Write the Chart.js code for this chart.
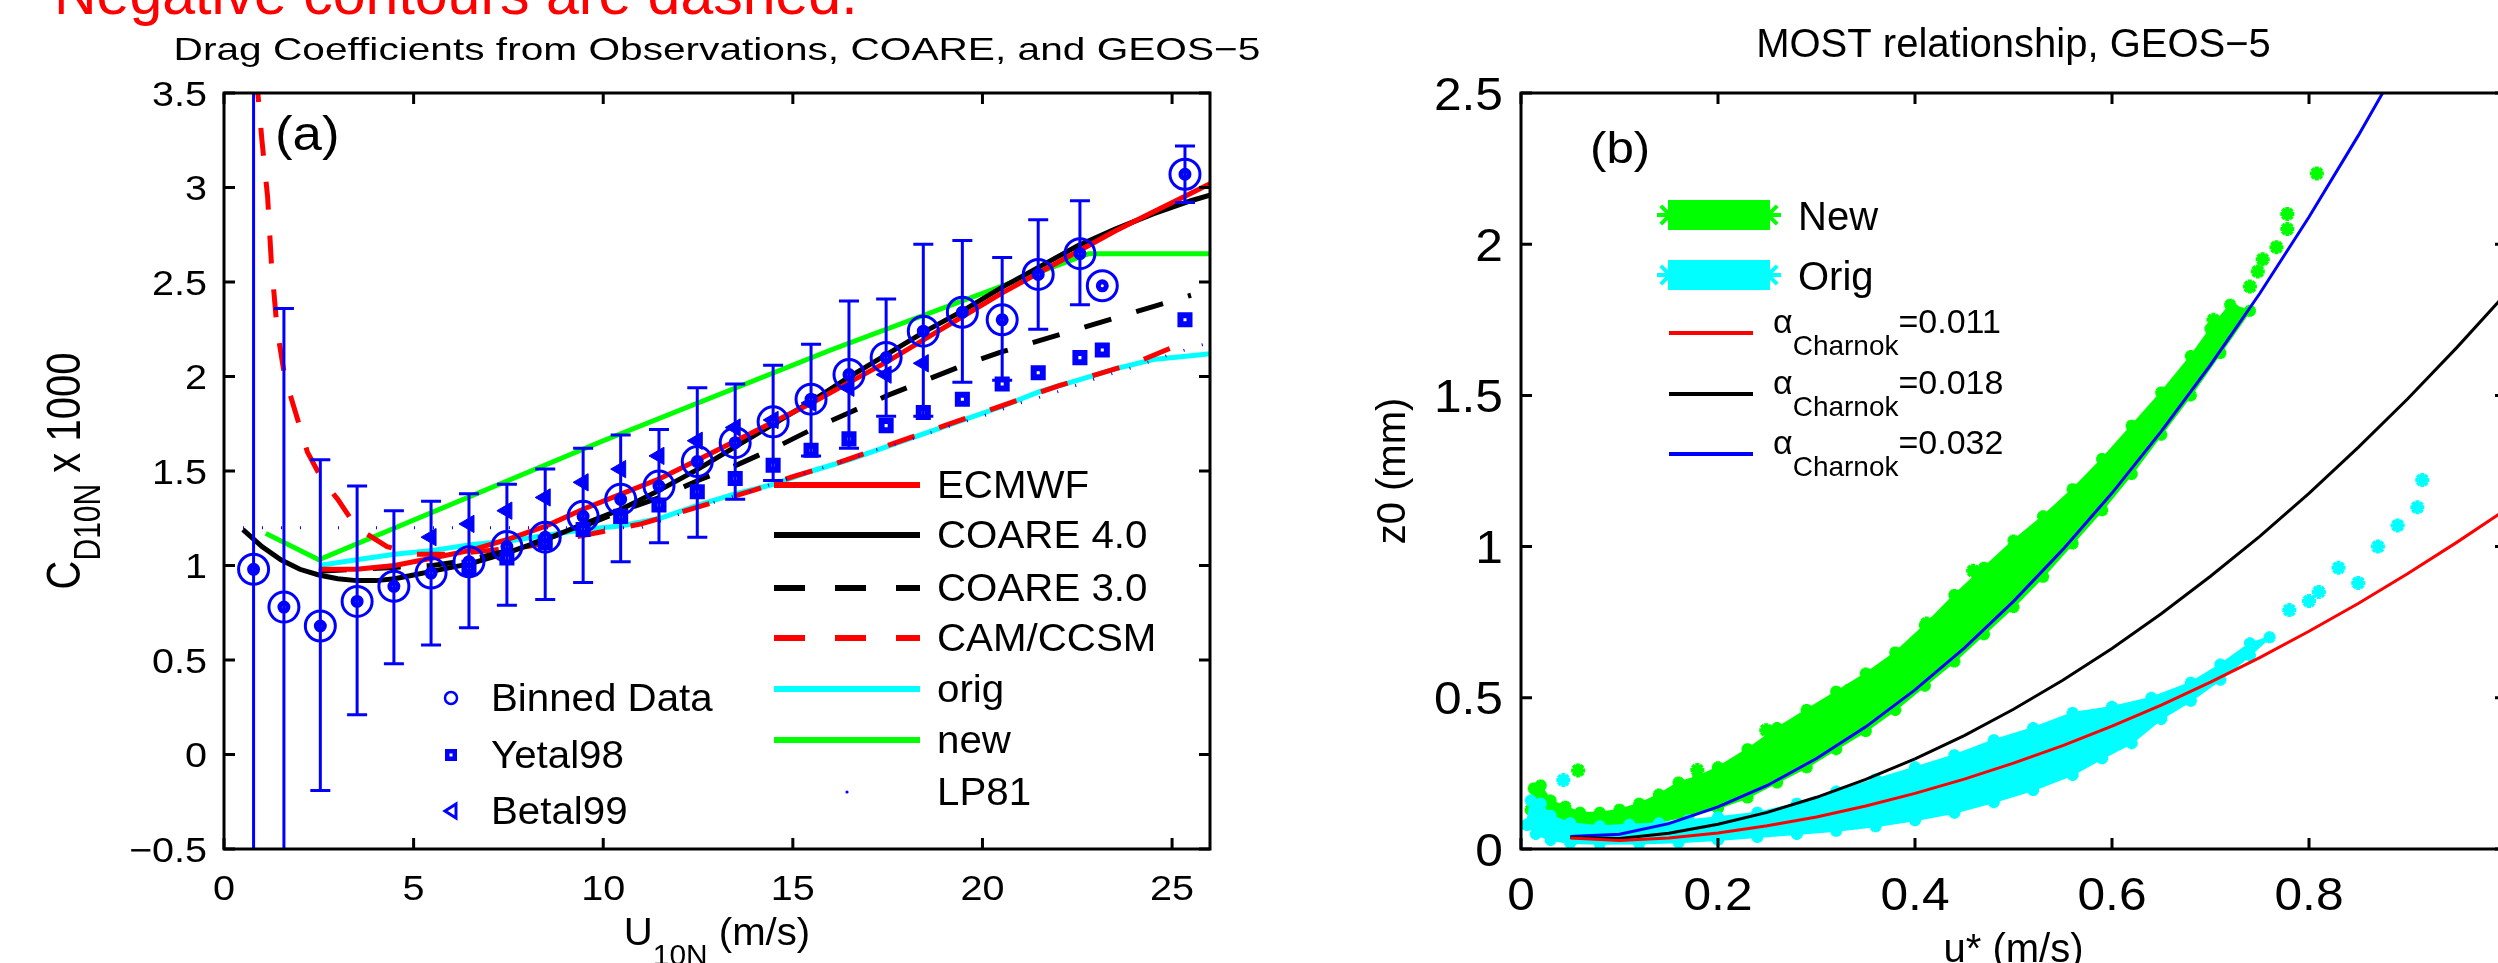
<!DOCTYPE html>
<html><head><meta charset="utf-8">
<script src="https://cdn.jsdelivr.net/npm/chart.js@4.4.1/dist/chart.umd.min.js"></script>
<style>
html,body{margin:0;padding:0;width:2498px;height:963px;overflow:hidden;background:#fff;}
#ca{position:absolute;left:0;top:0;}
#cb{position:absolute;left:1300px;top:0;}
</style></head><body>
<canvas id="ca" width="1300" height="963"></canvas>
<canvas id="cb" width="1230" height="963"></canvas>
<script>
// ---------------- Panel (a) data ----------------
const xTicksA = [0, 5, 10, 15, 20, 25];
const yTicksA = [-0.5, 0, 0.5, 1, 1.5, 2, 2.5, 3, 3.5];
const binU  = [0.78, 1.58, 2.54, 3.51, 4.48, 5.46, 6.46, 7.46, 8.47, 9.47, 10.46, 11.47, 12.48, 13.48, 14.48, 15.48, 16.48, 17.46, 18.44, 19.47, 20.52, 21.47, 22.57, 23.16, 25.34];
const binCd = [0.98, 0.78, 0.68, 0.81, 0.89, 0.96, 1.02, 1.10, 1.15, 1.26, 1.35, 1.42, 1.55, 1.65, 1.76, 1.88, 2.01, 2.10, 2.24, 2.34, 2.30, 2.54, 2.65, 2.48, 3.07];
const binHi = [4.5, 2.36, 1.56, 1.42, 1.29, 1.34, 1.38, 1.43, 1.51, 1.62, 1.69, 1.72, 1.94, 1.96, 2.06, 2.17, 2.40, 2.41, 2.70, 2.72, 2.63, 2.83, 2.93, null, 3.22];
const binLo = [-3, -3, -0.19, 0.21, 0.48, 0.58, 0.67, 0.79, 0.82, 0.91, 1.02, 1.12, 1.15, 1.35, 1.45, 1.58, 1.62, 1.79, 1.79, 1.97, 1.98, 2.25, 2.38, null, 2.92];
const yetU  = [6.46, 7.46, 8.47, 9.47, 10.46, 11.47, 12.48, 13.48, 14.48, 15.48, 16.48, 17.46, 18.44, 19.47, 20.52, 21.47, 22.57, 23.16, 25.34];
const yetCd = [0.99, 1.04, 1.12, 1.19, 1.26, 1.32, 1.39, 1.46, 1.53, 1.61, 1.67, 1.74, 1.81, 1.88, 1.96, 2.02, 2.10, 2.14, 2.30];
const betU  = [5.46, 6.46, 7.46, 8.47, 9.47, 10.46, 11.47, 12.48, 13.48, 14.48, 15.48, 16.48, 17.46, 18.44];
const betCd = [1.15, 1.22, 1.29, 1.36, 1.44, 1.51, 1.58, 1.66, 1.73, 1.77, 1.86, 1.94, 2.01, 2.07];
const ecmwfU  = [2.5, 3.5, 4.5, 5.5, 6.5, 7.5, 8.5, 9.5, 10.5, 11.5, 12.5, 13.5, 14.5, 15.5, 16.5, 17.5, 18.5, 19.5, 20.5, 21.5, 22.5, 23.5, 24.5, 25.5, 26];
const ecmwfCd = [0.98, 0.98, 1.00, 1.04, 1.08, 1.14, 1.21, 1.30, 1.38, 1.46, 1.56, 1.66, 1.76, 1.86, 1.97, 2.08, 2.20, 2.32, 2.44, 2.55, 2.66, 2.77, 2.87, 2.97, 3.02];
const coare40U  = [0.5, 1, 1.5, 2, 2.5, 3, 3.5, 4, 4.5, 5, 5.5, 6.5, 7.5, 8.5, 9.5, 10.5, 11.5, 12.5, 13.5, 14.5, 15.5, 16.5, 17.5, 18.5, 19.5, 20.5, 21.5, 22.5, 23.5, 24.5, 25.5, 26];
const coare40Cd = [1.19, 1.10, 1.03, 0.98, 0.95, 0.93, 0.92, 0.92, 0.93, 0.95, 0.97, 1.01, 1.07, 1.14, 1.22, 1.30, 1.40, 1.51, 1.63, 1.75, 1.87, 2.00, 2.12, 2.24, 2.35, 2.47, 2.58, 2.69, 2.78, 2.86, 2.93, 2.96];
const coare30U  = [2.5, 3.5, 4.5, 5.5, 6.5, 7.5, 8.5, 9.5, 10.5, 11.5, 12.5, 13.5, 14.5, 15.5, 16.5, 17.5, 18.5, 19.5, 20.5, 21.5, 22.5, 23.5, 24.5, 25.5];
const coare30Cd = [0.97, 0.98, 0.99, 1.00, 1.03, 1.08, 1.14, 1.21, 1.29, 1.36, 1.45, 1.53, 1.62, 1.72, 1.81, 1.90, 1.98, 2.06, 2.13, 2.19, 2.25, 2.31, 2.37, 2.43];
const camU  = [0.85, 1.0, 1.15, 1.25, 1.4, 1.6, 1.9, 2.2, 2.6, 3.0, 3.5, 4.3, 5.0, 6.0, 7.0, 8.0, 9.0, 10.0, 11.0, 12.0, 13.0, 14.0, 15.0, 16.0, 17.0, 18.0, 19.0, 20.0, 21.0, 22.0, 23.0, 24.0, 25.2];
const camCd = [3.6, 3.25, 2.95, 2.6, 2.25, 2.0, 1.8, 1.6, 1.45, 1.35, 1.2, 1.1, 1.06, 1.06, 1.08, 1.10, 1.14, 1.18, 1.22, 1.28, 1.34, 1.40, 1.47, 1.53, 1.60, 1.67, 1.74, 1.81, 1.88, 1.95, 2.01, 2.07, 2.17];
const origU  = [2.5, 3.5, 4.5, 5.5, 6.5, 7.5, 8.5, 9.5, 10.5, 11.5, 12.5, 13.5, 14.5, 15.5, 16.5, 17.5, 18.5, 19.5, 20.5, 21.5, 22.5, 23.5, 24.5, 25.5, 26];
const origCd = [1.00, 1.03, 1.06, 1.08, 1.11, 1.13, 1.16, 1.19, 1.21, 1.25, 1.32, 1.38, 1.43, 1.50, 1.56, 1.63, 1.70, 1.77, 1.84, 1.92, 1.98, 2.04, 2.09, 2.11, 2.12];
const newU  = [1.1, 2.5, 10.0, 16.0, 22.8, 26];
const newCd = [1.17, 1.03, 1.66, 2.14, 2.65, 2.65];
const lp81U  = [0.5, 2, 4, 6, 8, 10, 11, 12, 13, 14, 15, 16, 17, 18, 19, 20, 21, 22, 23, 24, 25, 26];
const lp81Cd = [1.2, 1.2, 1.2, 1.2, 1.2, 1.2, 1.2, 1.27, 1.34, 1.40, 1.47, 1.53, 1.60, 1.66, 1.73, 1.79, 1.86, 1.92, 1.99, 2.05, 2.12, 2.18];

// ---------------- Panel (b) data ----------------
const xTicksB = [0, 0.2, 0.4, 0.6, 0.8];
const yTicksB = [0, 0.5, 1, 1.5, 2, 2.5];
const uStar   = [0.05, 0.1, 0.15, 0.2, 0.25, 0.3, 0.35, 0.4, 0.45, 0.5, 0.55, 0.6, 0.65, 0.7, 0.75, 0.8, 0.85, 0.9, 0.95, 1.0];
const z0a011  = [0.036, 0.028, 0.036, 0.053, 0.077, 0.106, 0.142, 0.184, 0.231, 0.284, 0.342, 0.406, 0.476, 0.552, 0.633, 0.720, 0.812, 0.910, 1.014, 1.123];
const z0a018  = [0.038, 0.035, 0.052, 0.082, 0.121, 0.171, 0.230, 0.298, 0.375, 0.462, 0.558, 0.663, 0.778, 0.902, 1.034, 1.176, 1.328, 1.488, 1.658, 1.837];
const z0a032  = [0.041, 0.049, 0.084, 0.139, 0.210, 0.299, 0.404, 0.526, 0.664, 0.819, 0.990, 1.177, 1.381, 1.601, 1.837, 2.090, 2.359, 2.644, 2.945, 3.264];
const newBandU = [0.010,0.013,0.020,0.030,0.045,0.060,0.080,0.100,0.120,0.140,0.160,0.180,0.200,0.230,0.260,0.290,0.320,0.350,0.380,0.410,0.440,0.470,0.500,0.530,0.560,0.590,0.620,0.650,0.680,0.700,0.720,
                  0.740,0.710,0.680,0.650,0.620,0.590,0.560,0.530,0.500,0.470,0.440,0.410,0.380,0.350,0.320,0.290,0.260,0.230,0.200,0.170,0.140,0.110,0.080,0.050,0.030,0.015,0.010];
const newBandZ = [0.13,0.20,0.21,0.16,0.14,0.12,0.12,0.13,0.15,0.18,0.22,0.24,0.27,0.33,0.40,0.46,0.52,0.58,0.65,0.74,0.84,0.93,1.02,1.10,1.19,1.29,1.40,1.51,1.63,1.72,1.80,
                  1.78,1.64,1.50,1.37,1.24,1.12,1.01,0.90,0.80,0.71,0.62,0.54,0.46,0.39,0.33,0.27,0.22,0.17,0.135,0.11,0.09,0.08,0.075,0.07,0.08,0.10,0.13];
const newPtsU = [0.016, 0.058, 0.179, 0.249, 0.334, 0.412, 0.459, 0.703, 0.723, 0.740, 0.748, 0.753, 0.767, 0.778, 0.778, 0.808];
const newPtsZ = [0.195, 0.26, 0.261, 0.393, 0.526, 0.746, 0.92, 1.75, 1.78, 1.86, 1.91, 1.95, 1.99, 2.05, 2.10, 2.234];
const origBandU = [0.006,0.010,0.020,0.030,0.050,0.080,0.110,0.140,0.170,0.200,0.240,0.280,0.320,0.360,0.400,0.440,0.480,0.520,0.560,0.600,0.640,0.680,0.710,0.740,
                   0.760,0.740,0.710,0.680,0.650,0.620,0.590,0.560,0.520,0.480,0.440,0.400,0.360,0.320,0.280,0.240,0.200,0.160,0.120,0.080,0.050,0.030,0.015,0.006];
const origBandZ = [0.08,0.16,0.15,0.11,0.085,0.075,0.08,0.085,0.095,0.105,0.12,0.15,0.19,0.23,0.27,0.31,0.36,0.40,0.45,0.47,0.50,0.55,0.61,0.68,
                   0.70,0.64,0.56,0.49,0.43,0.35,0.30,0.245,0.195,0.155,0.12,0.095,0.075,0.06,0.05,0.04,0.03,0.022,0.018,0.017,0.02,0.03,0.05,0.08];
const origPtsU = [0.043, 0.78, 0.80, 0.81, 0.83, 0.85, 0.87, 0.89, 0.91, 0.915];
const origPtsZ = [0.228, 0.79, 0.82, 0.85, 0.93, 0.88, 1.00, 1.07, 1.13, 1.22];

// ---------------- helpers ----------------
const BLUE='#0000ff', RED='#ff0000', GREEN='#00ff00', CYAN='#00ffff', BLACK='#000000';
const FONT='"Liberation Sans", Arial, Helvetica, sans-serif';
function f(s){return s+'px '+FONT;}
function xy(xs, ys){return xs.map((v,i)=>({x:v, y:ys[i]}));}
// parts: [text, size, dy]; sx = horizontal stretch of glyphs
function rich(ctx, parts, x, y, align, sx){
  sx = sx || 1;
  let w=0;
  for(const p of parts){ctx.font=f(p[1]); w+=ctx.measureText(p[0]).width*sx;}
  let cx = align==='center'? x-w/2 : (align==='right'? x-w : x);
  ctx.textAlign='left'; ctx.textBaseline='alphabetic';
  for(const p of parts){
    ctx.font=f(p[1]);
    ctx.save(); ctx.translate(cx, y+(p[2]||0)); ctx.scale(sx,1); ctx.fillText(p[0], 0, 0); ctx.restore();
    cx+=ctx.measureText(p[0]).width*sx;
  }
}
function frame(chart, xt, yt, len){
  const {ctx, chartArea:a, scales:{x,y}} = chart;
  ctx.save();
  ctx.strokeStyle=BLACK; ctx.lineWidth=3;
  ctx.strokeRect(a.left, a.top, a.right-a.left, a.bottom-a.top);
  ctx.beginPath();
  xt.forEach(v=>{const p=x.getPixelForValue(v); ctx.moveTo(p,a.bottom); ctx.lineTo(p,a.bottom-len); ctx.moveTo(p,a.top); ctx.lineTo(p,a.top+len);});
  yt.forEach(v=>{const p=y.getPixelForValue(v); ctx.moveTo(a.left,p); ctx.lineTo(a.left+len,p); ctx.moveTo(a.right,p); ctx.lineTo(a.right-len,p);});
  ctx.lineWidth=3; ctx.stroke();
  ctx.restore();
}
function fmt(v){ const s = String(Math.round(v*10)/10); return s.replace('-', '\u2212'); }
function tickLabels(chart, xt, yt, size, sx, xBase, yRight, yOff){
  const {ctx, scales:{x,y}} = chart;
  ctx.save(); ctx.fillStyle=BLACK; ctx.font=f(size); ctx.textBaseline='alphabetic';
  xt.forEach(v=>{ ctx.save(); ctx.translate(x.getPixelForValue(v), xBase); ctx.scale(sx,1); ctx.textAlign='center'; ctx.fillText(fmt(v),0,0); ctx.restore(); });
  yt.forEach(v=>{ ctx.save(); ctx.translate(yRight, y.getPixelForValue(v)+yOff); ctx.scale(sx,1); ctx.textAlign='right'; ctx.fillText(fmt(v),0,0); ctx.restore(); });
  ctx.restore();
}
function lineDs(label, xs, ys, color, width, dash, order){
  return {label, data: xy(xs, ys), showLine:true, borderColor:color, borderWidth:width, borderDash:dash||[],
          pointRadius:0, fill:false, order, clip:0, tension:0};
}
function axisCommon(min, max, ticksArr, sizeFn){
  return {type:'linear', min, max, grid:{display:false, drawTicks:false}, border:{display:false},
    afterBuildTicks: s=>{ s.ticks = ticksArr.map(v=>({value:v})); },
    afterFit: s=>{ sizeFn(s); s.paddingLeft=0; s.paddingRight=0; s.paddingTop=0; s.paddingBottom=0; },
    ticks:{display:false}};
}

// ---------------- Panel (a) ----------------
const decorA = { id:'decorA',
  afterDatasetsDraw(chart){
    const {ctx, chartArea:a, scales:{x,y}} = chart;
    ctx.save();
    ctx.beginPath(); ctx.rect(a.left, a.top, a.right-a.left, a.bottom-a.top); ctx.clip();
    ctx.strokeStyle=BLUE; ctx.lineWidth=3;
    binU.forEach((u,i)=>{
      if(binHi[i]===null) return;
      const px=x.getPixelForValue(u), pt=y.getPixelForValue(binHi[i]), pb=y.getPixelForValue(binLo[i]);
      ctx.beginPath(); ctx.moveTo(px,pt); ctx.lineTo(px,pb);
      ctx.moveTo(px-10,pt); ctx.lineTo(px+10,pt); ctx.moveTo(px-10,pb); ctx.lineTo(px+10,pb);
      ctx.stroke();
    });
    ctx.restore();
  },
  afterDraw(chart){
    const {ctx, chartArea:a} = chart;
    frame(chart, xTicksA, yTicksA, 11);
    tickLabels(chart, xTicksA, yTicksA, 35, 1.13, 900, 207, 12.5);
    ctx.save();
    ctx.fillStyle=RED;
    rich(ctx, [['Negative contours are dashed.', 59]], 54, 14, 'left');
    ctx.fillStyle=BLACK;
    rich(ctx, [['Drag Coefficients from Observations, COARE, and GEOS\u22125', 32]], (a.left+a.right)/2, 60, 'center', 1.27);
    rich(ctx, [['U',39],['10N',29,20],[' (m/s)',39]], (a.left+a.right)/2, 945, 'center', 1.03);
    ctx.save(); ctx.translate(80, (a.top+a.bottom)/2); ctx.scale(1.2,1); ctx.rotate(-Math.PI/2);
    rich(ctx, [['C',40],['D10N',30,17],[' x 1000',40]], 0, 0, 'center');
    ctx.restore();
    rich(ctx, [['(a)',48]], 275, 150, 'left', 1.1);
    // left legend
    const rowsL=[['Binned Data',698],['Yetal98',755],['Betal99',811]];
    rowsL.forEach(r=>rich(ctx, [[r[0],38]], 491, r[1]+13, 'left', 1.06));
    ctx.strokeStyle=BLUE; ctx.fillStyle=BLUE; ctx.lineWidth=2.5;
    ctx.beginPath(); ctx.arc(451,698,6,0,Math.PI*2); ctx.stroke();
    ctx.fillRect(445,749,12,12); ctx.fillStyle='#fff'; ctx.fillRect(449.5,753.5,3,3);
    ctx.beginPath(); ctx.moveTo(445,811); ctx.lineTo(456,804); ctx.lineTo(456,818); ctx.closePath(); ctx.lineWidth=3; ctx.stroke();
    // right legend
    const rowsR=[['ECMWF',485,RED,[]],['COARE 4.0',535,BLACK,[]],['COARE 3.0',588,BLACK,[31,30]],['CAM/CCSM',638,RED,[31,30]],['orig',689,CYAN,[]],['new',740,GREEN,[]]];
    rowsR.forEach(r=>{
      ctx.strokeStyle=r[2]; ctx.lineWidth=6; ctx.setLineDash(r[3]);
      ctx.beginPath(); ctx.moveTo(774,r[1]); ctx.lineTo(920,r[1]); ctx.stroke();
    });
    ctx.setLineDash([]);
    ctx.fillStyle=BLUE; ctx.beginPath(); ctx.arc(847,792,1.6,0,Math.PI*2); ctx.fill();
    ctx.fillStyle=BLACK;
    rowsR.forEach(r=>rich(ctx, [[r[0],38]], 937, r[1]+13, 'left', 1.06));
    rich(ctx, [['LP81',38]], 937, 792+13, 'left', 1.06);
    ctx.restore();
  }
};

new Chart(document.getElementById('ca'), {
  type:'scatter',
  data:{datasets:[
    {label:'Binned Data', data:xy(binU,binCd), pointStyle:'circle', pointRadius:15, pointBorderWidth:3, pointBorderColor:BLUE, pointBackgroundColor:'rgba(0,0,0,0)', order:1},
    {label:'Binned centre', data:xy(binU,binCd), pointStyle:'circle', pointRadius:4, pointBorderWidth:5, pointBorderColor:BLUE, pointBackgroundColor:'#ffffff', order:1},
    {label:'Yetal98', data:xy(yetU,yetCd), pointStyle:'rect', pointRadius:6.4, pointBorderWidth:6, pointBorderColor:BLUE, pointBackgroundColor:'#ffffff', order:2},
    {label:'Betal99', data:xy(betU,betCd), pointStyle:'triangle', pointRotation:270, pointRadius:10, pointBorderWidth:1, pointBorderColor:BLUE, pointBackgroundColor:BLUE, order:2},
    lineDs('LP81', lp81U, lp81Cd, BLUE, 3, [1,18], 3),
    lineDs('ECMWF', ecmwfU, ecmwfCd, RED, 5, [], 4),
    lineDs('COARE 4.0', coare40U, coare40Cd, BLACK, 5, [], 5),
    lineDs('COARE 3.0', coare30U, coare30Cd, BLACK, 5, [28,26], 6),
    lineDs('CAM/CCSM', camU, camCd, RED, 5, [28,26], 7),
    lineDs('orig', origU, origCd, CYAN, 5, [], 8),
    lineDs('new', newU, newCd, GREEN, 5, [], 9)
  ]},
  options:{
    responsive:false, animation:false, events:[],
    layout:{padding:{left:0, top:93, right:90, bottom:0}},
    plugins:{legend:{display:false}, tooltip:{enabled:false}, title:{display:false}},
    scales:{
      x: axisCommon(0, 26, xTicksA, s=>{s.height=114;}),
      y: axisCommon(-0.5, 3.5, yTicksA, s=>{s.width=224;})
    }
  },
  plugins:[decorA]
});

// ---------------- Panel (b) ----------------
function starAt(ctx, x, y, r){
  ctx.beginPath();
  for(let k=0;k<4;k++){const an=k*Math.PI/4; ctx.moveTo(x-r*Math.cos(an), y-r*Math.sin(an)); ctx.lineTo(x+r*Math.cos(an), y+r*Math.sin(an));}
  ctx.stroke();
}
const decorB = { id:'decorB',
  afterDraw(chart){
    const {ctx, chartArea:a} = chart;
    frame(chart, xTicksB, yTicksB, 11);
    tickLabels(chart, xTicksB, yTicksB, 46, 1.08, 910, 203, 16.5);
    ctx.save();
    ctx.fillStyle=BLACK;
    rich(ctx, [['MOST relationship, GEOS\u22125', 40]], (a.left+a.right)/2, 57, 'center');
    rich(ctx, [['u* (m/s)', 40]], (a.left+a.right)/2, 962, 'center');
    ctx.save(); ctx.translate(1405-1300, (a.top+a.bottom)/2); ctx.rotate(-Math.PI/2);
    rich(ctx, [['z0 (mm)',40]], 0, 0, 'center');
    ctx.restore();
    rich(ctx, [['(b)',44]], 1590-1300, 163, 'left', 1.12);
    const off=-1300;
    [[GREEN,215,'New'],[CYAN,275,'Orig']].forEach(r=>{
      ctx.fillStyle=r[0]; ctx.fillRect(1668+off, r[1]-15, 102, 30);
      ctx.strokeStyle=r[0]; ctx.lineWidth=4;
      starAt(ctx, 1670+off, r[1], 13); starAt(ctx, 1768+off, r[1], 13);
      ctx.fillStyle=BLACK; rich(ctx, [[r[2],40]], 1798+off, r[1]+15, 'left');
    });
    [[RED,333,'0.011'],[BLACK,394,'0.018'],[BLUE,454,'0.032']].forEach(r=>{
      ctx.strokeStyle=r[0]; ctx.lineWidth=4;
      ctx.beginPath(); ctx.moveTo(1669+off, r[1]); ctx.lineTo(1753+off, r[1]); ctx.stroke();
      ctx.fillStyle=BLACK;
      rich(ctx, [['\u03b1',34],['Charnok',28,22],['='+r[2],34]], 1773+off, r[1], 'left');
    });
    ctx.restore();
  }
};

new Chart(document.getElementById('cb'), {
  type:'scatter',
  data:{datasets:[
    lineDs('\u03b1 Charnok=0.011', uStar, z0a011, RED, 3, [], 1),
    lineDs('\u03b1 Charnok=0.018', uStar, z0a018, BLACK, 3, [], 2),
    lineDs('\u03b1 Charnok=0.032', uStar, z0a032, BLUE, 3, [], 3),
    {label:'Orig pts', data:xy(origPtsU,origPtsZ), pointStyle:'star', pointRadius:7, pointBorderWidth:4, pointBorderColor:CYAN, pointBackgroundColor:CYAN, order:6},
    {label:'Orig', data:xy(origBandU,origBandZ), showLine:true, fill:'shape', backgroundColor:CYAN, borderColor:CYAN, borderWidth:2,
      pointStyle:'star', pointRadius:6, pointBorderWidth:4, pointBorderColor:CYAN, order:7, clip:0},
    {label:'New pts', data:xy(newPtsU,newPtsZ), pointStyle:'star', pointRadius:7, pointBorderWidth:4, pointBorderColor:GREEN, pointBackgroundColor:GREEN, order:8},
    {label:'New', data:xy(newBandU,newBandZ), showLine:true, fill:'shape', backgroundColor:GREEN, borderColor:GREEN, borderWidth:2,
      pointStyle:'star', pointRadius:6, pointBorderWidth:4, pointBorderColor:GREEN, order:9, clip:0}
  ]},
  options:{
    responsive:false, animation:false, events:[],
    layout:{padding:{left:0, top:93, right:24, bottom:0}},
    plugins:{legend:{display:false}, tooltip:{enabled:false}, title:{display:false}},
    scales:{
      x: axisCommon(0, 1, xTicksB, s=>{s.height=114;}),
      y: axisCommon(0, 2.5, yTicksB, s=>{s.width=221;})
    }
  },
  plugins:[decorB]
});
</script>
</body></html>
